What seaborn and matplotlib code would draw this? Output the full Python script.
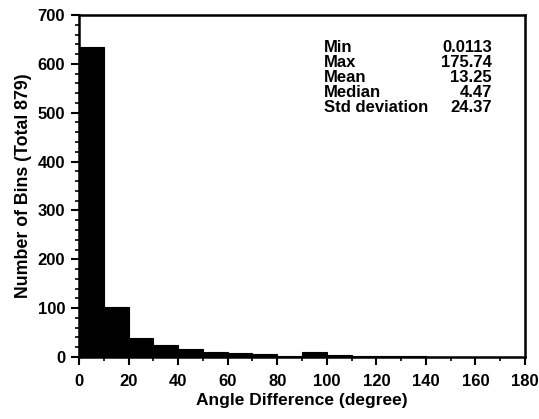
import matplotlib
matplotlib.use("Agg")
import matplotlib.pyplot as plt
import seaborn as sns
import numpy as np
import pandas as pd
from matplotlib.ticker import MultipleLocator

bin_left = [0, 10, 20, 30, 40, 50, 60, 70, 80, 90, 100, 110, 120, 130, 140, 150, 160, 170]
counts = [635, 102, 39, 24, 16, 10, 8, 6, 3, 10, 5, 3, 3, 2, 1, 1, 1, 1]
bin_width = 10
stat_names = ["Min", "Max", "Mean", "Median", "Std deviation"]
stat_values = ["0.0113", "175.74", "13.25", "4.47", "24.37"]

sns.set_theme(style="ticks")
plt.rcParams['font.family'] = ['Liberation Sans', 'DejaVu Sans']
plt.rcParams['font.weight'] = 'bold'
plt.rcParams['text.color'] = 'black'
plt.rcParams['axes.labelcolor'] = 'black'

df = pd.DataFrame({"center": np.array(bin_left) + bin_width / 2, "count": counts})
edges = list(bin_left) + [bin_left[-1] + bin_width]

fig = plt.figure(figsize=(5.39, 4.19), dpi=100)
ax = fig.add_axes([79 / 539, 1 - 357 / 419, (525 - 79) / 539, (357 - 15) / 419])
sns.histplot(data=df, x="center", weights="count", bins=edges, color="black",
             edgecolor="black", alpha=1, linewidth=0.8, ax=ax)

ax.set_xlim(0, 180)
ax.set_ylim(0, 700)
ax.xaxis.set_major_locator(MultipleLocator(20))
ax.xaxis.set_minor_locator(MultipleLocator(10))
ax.yaxis.set_major_locator(MultipleLocator(100))
ax.yaxis.set_minor_locator(MultipleLocator(20))
ax.tick_params(axis="both", which="major", direction="out", length=6, width=1.5,
               labelsize=12, colors="black", labelcolor="black")
ax.tick_params(axis="x", which="major", pad=6)
ax.tick_params(axis="y", which="major", pad=4)
ax.tick_params(axis="both", which="minor", direction="out", length=3, width=1.2,
               colors="black")
for lab in ax.get_xticklabels() + ax.get_yticklabels():
    lab.set_fontweight("bold")
for s in ax.spines.values():
    s.set_linewidth(1.8)
    s.set_color("black")

ax.set_xlabel("Angle Difference (degree)", fontsize=12.5, fontweight="bold",
              labelpad=3, color="black")
ax.set_ylabel("Number of Bins (Total 879)", fontsize=12.8, fontweight="bold",
              labelpad=4, color="black")

y0 = 0.927
dy = 0.0439
for i, (n, v) in enumerate(zip(stat_names, stat_values)):
    ax.text(0.549, y0 - i * dy, n, transform=ax.transAxes, fontsize=12,
            fontweight="bold", ha="left", va="top", color="black")
    ax.text(0.926, y0 - i * dy, v, transform=ax.transAxes, fontsize=12,
            fontweight="bold", ha="right", va="top", color="black")

fig.savefig("out.png", dpi=100)
